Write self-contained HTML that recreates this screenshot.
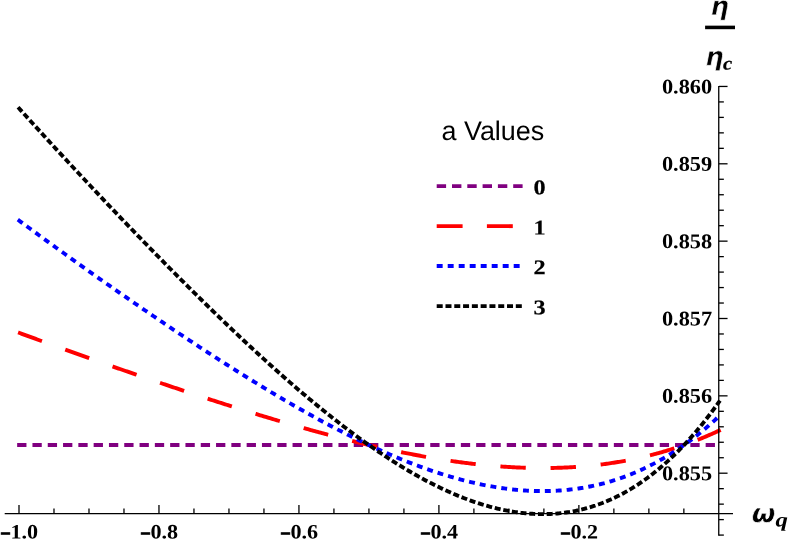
<!DOCTYPE html>
<html><head><meta charset="utf-8"><title>chart</title>
<style>html,body{margin:0;padding:0;background:#fff;}body{width:789px;height:540px;overflow:hidden;font-family:"Liberation Sans",sans-serif;}svg{display:block;will-change:transform;}</style>
</head><body>
<svg width="789" height="540" viewBox="0 0 789 540">
<rect width="789" height="540" fill="#fff"/>
<g fill="none" stroke-width="3.9">
<path d="M17.15,445.0 L720.85,445.0" stroke="#800080" stroke-dasharray="9.3 6"/>
<path d="M18.11,332.43 L19.00,332.76 L20.40,333.28 L21.81,333.80 L23.21,334.31 L24.61,334.83 L26.01,335.35 L27.42,335.87 L28.82,336.38 L30.22,336.90 L31.62,337.41 L33.03,337.93 L34.43,338.44 L35.83,338.95 L37.23,339.47 L38.64,339.98 L40.04,340.49 L41.44,341.01 L42.84,341.52 L44.25,342.03 L45.65,342.54 L47.05,343.05 L48.45,343.56 L49.86,344.07 L51.26,344.58 L52.66,345.09 L54.06,345.59 L55.47,346.10 L56.87,346.61 L58.27,347.12 L59.67,347.62 L61.08,348.13 L62.48,348.64 L63.88,349.14 L65.28,349.65 L66.69,350.15 L68.09,350.65 L69.49,351.16 L70.89,351.66 L72.30,352.16 L73.70,352.67 L75.10,353.17 L76.50,353.67 L77.91,354.17 L79.31,354.67 L80.71,355.17 L82.11,355.67 L83.52,356.17 L84.92,356.67 L86.32,357.17 L87.72,357.67 L89.13,358.17 L90.53,358.67 L91.93,359.16 L93.33,359.66 L94.74,360.16 L96.14,360.65 L97.54,361.15 L98.94,361.64 L100.35,362.14 L101.75,362.63 L103.15,363.13 L104.55,363.62 L105.96,364.11 L107.36,364.61 L108.76,365.10 L110.16,365.59 L111.57,366.08 L112.97,366.57 L114.37,367.07 L115.77,367.56 L117.18,368.05 L118.58,368.54 L119.98,369.02 L121.38,369.51 L122.79,370.00 L124.19,370.49 L125.59,370.98 L126.99,371.46 L128.40,371.95 L129.80,372.44 L131.20,372.92 L132.60,373.41 L134.01,373.89 L135.41,374.38 L136.81,374.86 L138.21,375.34 L139.62,375.83 L141.02,376.31 L142.42,376.79 L143.82,377.27 L145.23,377.75 L146.63,378.24 L148.03,378.72 L149.43,379.20 L150.84,379.67 L152.24,380.15 L153.64,380.63 L155.04,381.11 L156.45,381.59 L157.85,382.06 L159.25,382.54 L160.65,383.02 L162.06,383.49 L163.46,383.97 L164.86,384.44 L166.26,384.92 L167.67,385.39 L169.07,385.86 L170.47,386.33 L171.87,386.81 L173.28,387.28 L174.68,387.75 L176.08,388.22 L177.48,388.69 L178.89,389.16 L180.29,389.63 L181.69,390.09 L183.09,390.56 L184.50,391.03 L185.90,391.50 L187.30,391.96 L188.70,392.43 L190.11,392.89 L191.51,393.36 L192.91,393.82 L194.31,394.28 L195.72,394.74 L197.12,395.21 L198.52,395.67 L199.92,396.13 L201.33,396.59 L202.73,397.05 L204.13,397.51 L205.53,397.96 L206.94,398.42 L208.34,398.88 L209.74,399.33 L211.14,399.79 L212.55,400.24 L213.95,400.70 L215.35,401.15 L216.75,401.60 L218.16,402.06 L219.56,402.51 L220.96,402.96 L222.36,403.41 L223.77,403.86 L225.17,404.31 L226.57,404.75 L227.97,405.20 L229.38,405.65 L230.78,406.09 L232.18,406.54 L233.58,406.98 L234.99,407.43 L236.39,407.87 L237.79,408.31 L239.19,408.75 L240.60,409.19 L242.00,409.63 L243.40,410.07 L244.80,410.51 L246.21,410.94 L247.61,411.38 L249.01,411.82 L250.41,412.25 L251.82,412.68 L253.22,413.12 L254.62,413.55 L256.02,413.98 L257.43,414.41 L258.83,414.84 L260.23,415.27 L261.63,415.69 L263.04,416.12 L264.44,416.55 L265.84,416.97 L267.24,417.40 L268.65,417.82 L270.05,418.24 L271.45,418.66 L272.85,419.08 L274.26,419.50 L275.66,419.92 L277.06,420.34 L278.46,420.75 L279.87,421.17 L281.27,421.58 L282.67,421.99 L284.07,422.41 L285.48,422.82 L286.88,423.23 L288.28,423.63 L289.68,424.04 L291.09,424.45 L292.49,424.85 L293.89,425.26 L295.29,425.66 L296.70,426.06 L298.10,426.47 L299.50,426.87 L300.90,427.26 L302.31,427.66 L303.71,428.06 L305.11,428.45 L306.51,428.85 L307.92,429.24 L309.32,429.63 L310.72,430.02 L312.12,430.41 L313.53,430.80 L314.93,431.19 L316.33,431.57 L317.73,431.96 L319.14,432.34 L320.54,432.72 L321.94,433.10 L323.34,433.48 L324.75,433.86 L326.15,434.23 L327.55,434.61 L328.95,434.98 L330.36,435.36 L331.76,435.73 L333.16,436.10 L334.56,436.46 L335.97,436.83 L337.37,437.20 L338.77,437.56 L340.17,437.92 L341.58,438.28 L342.98,438.64 L344.38,439.00 L345.78,439.36 L347.19,439.71 L348.59,440.07 L349.99,440.42 L351.39,440.77 L352.80,441.12 L354.20,441.46 L355.60,441.81 L357.00,442.15 L358.41,442.50 L359.81,442.84 L361.21,443.18 L362.61,443.52 L364.02,443.85 L365.42,444.19 L366.82,444.52 L368.22,444.85 L369.63,445.18 L371.03,445.51 L372.43,445.83 L373.83,446.16 L375.24,446.48 L376.64,446.80 L378.04,447.12 L379.44,447.44 L380.85,447.75 L382.25,448.06 L383.65,448.38 L385.05,448.69 L386.46,448.99 L387.86,449.30 L389.26,449.60 L390.66,449.91 L392.07,450.21 L393.47,450.51 L394.87,450.80 L396.27,451.10 L397.68,451.39 L399.08,451.68 L400.48,451.97 L401.88,452.25 L403.29,452.54 L404.69,452.82 L406.09,453.10 L407.49,453.38 L408.90,453.66 L410.30,453.93 L411.70,454.20 L413.10,454.47 L414.51,454.74 L415.91,455.01 L417.31,455.27 L418.71,455.53 L420.12,455.79 L421.52,456.05 L422.92,456.30 L424.32,456.55 L425.73,456.80 L427.13,457.05 L428.53,457.30 L429.93,457.54 L431.34,457.78 L432.74,458.02 L434.14,458.26 L435.54,458.49 L436.95,458.72 L438.35,458.95 L439.75,459.18 L441.15,459.40 L442.56,459.62 L443.96,459.84 L445.36,460.06 L446.76,460.27 L448.17,460.49 L449.57,460.70 L450.97,460.90 L452.37,461.11 L453.78,461.31 L455.18,461.51 L456.58,461.70 L457.98,461.90 L459.39,462.09 L460.79,462.28 L462.19,462.46 L463.59,462.65 L465.00,462.83 L466.40,463.00 L467.80,463.18 L469.20,463.35 L470.61,463.52 L472.01,463.69 L473.41,463.85 L474.81,464.01 L476.22,464.17 L477.62,464.32 L479.02,464.48 L480.42,464.63 L481.83,464.77 L483.23,464.92 L484.63,465.06 L486.03,465.19 L487.44,465.33 L488.84,465.46 L490.24,465.59 L491.64,465.71 L493.05,465.84 L494.45,465.96 L495.85,466.07 L497.25,466.19 L498.66,466.30 L500.06,466.40 L501.46,466.51 L502.86,466.61 L504.27,466.70 L505.67,466.80 L507.07,466.89 L508.47,466.98 L509.88,467.06 L511.28,467.14 L512.68,467.22 L514.08,467.29 L515.49,467.36 L516.89,467.43 L518.29,467.49 L519.69,467.55 L521.10,467.61 L522.50,467.67 L523.90,467.72 L525.30,467.76 L526.71,467.80 L528.11,467.84 L529.51,467.88 L530.91,467.91 L532.32,467.94 L533.72,467.97 L535.12,467.99 L536.52,468.01 L537.93,468.02 L539.33,468.03 L540.73,468.04 L542.13,468.04 L543.54,468.04 L544.94,468.03 L546.34,468.03 L547.74,468.01 L549.15,468.00 L550.55,467.98 L551.95,467.95 L553.35,467.93 L554.76,467.89 L556.16,467.86 L557.56,467.82 L558.96,467.78 L560.37,467.73 L561.77,467.68 L563.17,467.62 L564.57,467.56 L565.98,467.50 L567.38,467.43 L568.78,467.36 L570.18,467.28 L571.59,467.20 L572.99,467.11 L574.39,467.02 L575.79,466.93 L577.20,466.83 L578.60,466.73 L580.00,466.63 L581.40,466.51 L582.81,466.40 L584.21,466.28 L585.61,466.16 L587.01,466.03 L588.42,465.90 L589.82,465.76 L591.22,465.62 L592.62,465.47 L594.03,465.32 L595.43,465.16 L596.83,465.00 L598.23,464.84 L599.64,464.67 L601.04,464.50 L602.44,464.32 L603.84,464.13 L605.25,463.95 L606.65,463.75 L608.05,463.56 L609.45,463.35 L610.86,463.15 L612.26,462.93 L613.66,462.72 L615.06,462.50 L616.47,462.27 L617.87,462.04 L619.27,461.80 L620.67,461.56 L622.08,461.31 L623.48,461.06 L624.88,460.80 L626.28,460.54 L627.69,460.27 L629.09,460.00 L630.49,459.72 L631.89,459.44 L633.30,459.15 L634.70,458.86 L636.10,458.56 L637.50,458.26 L638.91,457.95 L640.31,457.64 L641.71,457.32 L643.11,456.99 L644.52,456.66 L645.92,456.33 L647.32,455.98 L648.72,455.64 L650.13,455.29 L651.53,454.93 L652.93,454.56 L654.33,454.19 L655.74,453.82 L657.14,453.44 L658.54,453.05 L659.94,452.66 L661.35,452.26 L662.75,451.86 L664.15,451.45 L665.55,451.04 L666.96,450.62 L668.36,450.19 L669.76,449.76 L671.16,449.32 L672.57,448.88 L673.97,448.43 L675.37,447.97 L676.77,447.51 L678.18,447.04 L679.58,446.57 L680.98,446.09 L682.38,445.60 L683.79,445.11 L685.19,444.61 L686.59,444.10 L687.99,443.59 L689.40,443.07 L690.80,442.55 L692.20,442.02 L693.60,441.48 L695.01,440.94 L696.41,440.39 L697.81,439.84 L699.21,439.28 L700.62,438.71 L702.02,438.13 L703.42,437.55 L704.82,436.96 L706.23,436.37 L707.63,435.77 L709.03,435.16 L710.43,434.54 L711.84,433.92 L713.24,433.30 L714.64,432.66 L716.04,432.02 L717.45,431.37 L718.85,430.72 L720.66,429.87" stroke="#ff0000" stroke-dasharray="25.4 24.8"/>
<path d="M17.83,219.66 L19.00,220.52 L20.40,221.56 L21.81,222.59 L23.21,223.63 L24.61,224.66 L26.01,225.70 L27.42,226.73 L28.82,227.76 L30.22,228.79 L31.62,229.82 L33.03,230.85 L34.43,231.88 L35.83,232.91 L37.23,233.94 L38.64,234.96 L40.04,235.99 L41.44,237.01 L42.84,238.03 L44.25,239.06 L45.65,240.08 L47.05,241.10 L48.45,242.12 L49.86,243.14 L51.26,244.16 L52.66,245.17 L54.06,246.19 L55.47,247.21 L56.87,248.22 L58.27,249.23 L59.67,250.25 L61.08,251.26 L62.48,252.27 L63.88,253.28 L65.28,254.29 L66.69,255.30 L68.09,256.31 L69.49,257.32 L70.89,258.32 L72.30,259.33 L73.70,260.33 L75.10,261.34 L76.50,262.34 L77.91,263.34 L79.31,264.35 L80.71,265.35 L82.11,266.35 L83.52,267.35 L84.92,268.35 L86.32,269.34 L87.72,270.34 L89.13,271.34 L90.53,272.33 L91.93,273.33 L93.33,274.32 L94.74,275.31 L96.14,276.31 L97.54,277.30 L98.94,278.29 L100.35,279.28 L101.75,280.27 L103.15,281.26 L104.55,282.24 L105.96,283.23 L107.36,284.22 L108.76,285.20 L110.16,286.18 L111.57,287.17 L112.97,288.15 L114.37,289.13 L115.77,290.11 L117.18,291.09 L118.58,292.07 L119.98,293.05 L121.38,294.03 L122.79,295.00 L124.19,295.98 L125.59,296.95 L126.99,297.93 L128.40,298.90 L129.80,299.87 L131.20,300.84 L132.60,301.82 L134.01,302.78 L135.41,303.75 L136.81,304.72 L138.21,305.69 L139.62,306.65 L141.02,307.62 L142.42,308.58 L143.82,309.55 L145.23,310.51 L146.63,311.47 L148.03,312.43 L149.43,313.39 L150.84,314.35 L152.24,315.31 L153.64,316.26 L155.04,317.22 L156.45,318.18 L157.85,319.13 L159.25,320.08 L160.65,321.03 L162.06,321.98 L163.46,322.93 L164.86,323.88 L166.26,324.83 L167.67,325.78 L169.07,326.72 L170.47,327.67 L171.87,328.61 L173.28,329.56 L174.68,330.50 L176.08,331.44 L177.48,332.38 L178.89,333.32 L180.29,334.25 L181.69,335.19 L183.09,336.12 L184.50,337.06 L185.90,337.99 L187.30,338.92 L188.70,339.85 L190.11,340.78 L191.51,341.71 L192.91,342.64 L194.31,343.56 L195.72,344.49 L197.12,345.41 L198.52,346.33 L199.92,347.26 L201.33,348.18 L202.73,349.09 L204.13,350.01 L205.53,350.93 L206.94,351.84 L208.34,352.76 L209.74,353.67 L211.14,354.58 L212.55,355.49 L213.95,356.40 L215.35,357.30 L216.75,358.21 L218.16,359.11 L219.56,360.02 L220.96,360.92 L222.36,361.82 L223.77,362.72 L225.17,363.61 L226.57,364.51 L227.97,365.40 L229.38,366.29 L230.78,367.19 L232.18,368.08 L233.58,368.96 L234.99,369.85 L236.39,370.74 L237.79,371.62 L239.19,372.50 L240.60,373.38 L242.00,374.26 L243.40,375.14 L244.80,376.01 L246.21,376.89 L247.61,377.76 L249.01,378.63 L250.41,379.50 L251.82,380.37 L253.22,381.23 L254.62,382.10 L256.02,382.96 L257.43,383.82 L258.83,384.68 L260.23,385.53 L261.63,386.39 L263.04,387.24 L264.44,388.09 L265.84,388.94 L267.24,389.79 L268.65,390.64 L270.05,391.48 L271.45,392.32 L272.85,393.16 L274.26,394.00 L275.66,394.84 L277.06,395.67 L278.46,396.50 L279.87,397.33 L281.27,398.16 L282.67,398.99 L284.07,399.81 L285.48,400.63 L286.88,401.45 L288.28,402.27 L289.68,403.08 L291.09,403.90 L292.49,404.71 L293.89,405.52 L295.29,406.32 L296.70,407.13 L298.10,407.93 L299.50,408.73 L300.90,409.53 L302.31,410.32 L303.71,411.12 L305.11,411.91 L306.51,412.70 L307.92,413.48 L309.32,414.26 L310.72,415.05 L312.12,415.82 L313.53,416.60 L314.93,417.37 L316.33,418.14 L317.73,418.91 L319.14,419.68 L320.54,420.44 L321.94,421.20 L323.34,421.96 L324.75,422.72 L326.15,423.47 L327.55,424.22 L328.95,424.97 L330.36,425.71 L331.76,426.45 L333.16,427.19 L334.56,427.93 L335.97,428.66 L337.37,429.39 L338.77,430.12 L340.17,430.85 L341.58,431.57 L342.98,432.29 L344.38,433.00 L345.78,433.72 L347.19,434.43 L348.59,435.13 L349.99,435.84 L351.39,436.54 L352.80,437.24 L354.20,437.93 L355.60,438.62 L357.00,439.31 L358.41,439.99 L359.81,440.68 L361.21,441.36 L362.61,442.03 L364.02,442.70 L365.42,443.37 L366.82,444.04 L368.22,444.70 L369.63,445.36 L371.03,446.01 L372.43,446.67 L373.83,447.31 L375.24,447.96 L376.64,448.60 L378.04,449.24 L379.44,449.87 L380.85,450.50 L382.25,451.13 L383.65,451.75 L385.05,452.37 L386.46,452.99 L387.86,453.60 L389.26,454.21 L390.66,454.81 L392.07,455.41 L393.47,456.01 L394.87,456.60 L396.27,457.19 L397.68,457.78 L399.08,458.36 L400.48,458.94 L401.88,459.51 L403.29,460.08 L404.69,460.64 L406.09,461.20 L407.49,461.76 L408.90,462.31 L410.30,462.86 L411.70,463.41 L413.10,463.95 L414.51,464.48 L415.91,465.01 L417.31,465.54 L418.71,466.06 L420.12,466.58 L421.52,467.09 L422.92,467.60 L424.32,468.11 L425.73,468.61 L427.13,469.10 L428.53,469.60 L429.93,470.08 L431.34,470.56 L432.74,471.04 L434.14,471.51 L435.54,471.98 L436.95,472.44 L438.35,472.90 L439.75,473.36 L441.15,473.81 L442.56,474.25 L443.96,474.69 L445.36,475.12 L446.76,475.55 L448.17,475.97 L449.57,476.39 L450.97,476.81 L452.37,477.21 L453.78,477.62 L455.18,478.02 L456.58,478.41 L457.98,478.80 L459.39,479.18 L460.79,479.55 L462.19,479.93 L463.59,480.29 L465.00,480.65 L466.40,481.01 L467.80,481.36 L469.20,481.70 L470.61,482.04 L472.01,482.37 L473.41,482.70 L474.81,483.02 L476.22,483.34 L477.62,483.65 L479.02,483.95 L480.42,484.25 L481.83,484.55 L483.23,484.83 L484.63,485.11 L486.03,485.39 L487.44,485.66 L488.84,485.92 L490.24,486.18 L491.64,486.43 L493.05,486.67 L494.45,486.91 L495.85,487.14 L497.25,487.37 L498.66,487.59 L500.06,487.80 L501.46,488.01 L502.86,488.21 L504.27,488.41 L505.67,488.59 L507.07,488.78 L508.47,488.95 L509.88,489.12 L511.28,489.28 L512.68,489.44 L514.08,489.58 L515.49,489.73 L516.89,489.86 L518.29,489.99 L519.69,490.11 L521.10,490.22 L522.50,490.33 L523.90,490.43 L525.30,490.52 L526.71,490.61 L528.11,490.69 L529.51,490.76 L530.91,490.83 L532.32,490.88 L533.72,490.93 L535.12,490.98 L536.52,491.01 L537.93,491.04 L539.33,491.06 L540.73,491.07 L542.13,491.08 L543.54,491.08 L544.94,491.07 L546.34,491.05 L547.74,491.03 L549.15,491.00 L550.55,490.96 L551.95,490.91 L553.35,490.85 L554.76,490.79 L556.16,490.72 L557.56,490.64 L558.96,490.55 L560.37,490.46 L561.77,490.35 L563.17,490.24 L564.57,490.12 L565.98,489.99 L567.38,489.86 L568.78,489.71 L570.18,489.56 L571.59,489.40 L572.99,489.23 L574.39,489.05 L575.79,488.86 L577.20,488.67 L578.60,488.46 L580.00,488.25 L581.40,488.03 L582.81,487.80 L584.21,487.56 L585.61,487.31 L587.01,487.06 L588.42,486.79 L589.82,486.52 L591.22,486.23 L592.62,485.94 L594.03,485.64 L595.43,485.33 L596.83,485.01 L598.23,484.68 L599.64,484.34 L601.04,483.99 L602.44,483.64 L603.84,483.27 L605.25,482.89 L606.65,482.51 L608.05,482.11 L609.45,481.71 L610.86,481.29 L612.26,480.87 L613.66,480.44 L615.06,479.99 L616.47,479.54 L617.87,479.07 L619.27,478.60 L620.67,478.12 L622.08,477.62 L623.48,477.12 L624.88,476.61 L626.28,476.08 L627.69,475.55 L629.09,475.00 L630.49,474.45 L631.89,473.88 L633.30,473.31 L634.70,472.72 L636.10,472.13 L637.50,471.52 L638.91,470.90 L640.31,470.27 L641.71,469.63 L643.11,468.98 L644.52,468.32 L645.92,467.65 L647.32,466.97 L648.72,466.27 L650.13,465.57 L651.53,464.85 L652.93,464.13 L654.33,463.39 L655.74,462.64 L657.14,461.88 L658.54,461.11 L659.94,460.32 L661.35,459.53 L662.75,458.72 L664.15,457.91 L665.55,457.08 L666.96,456.23 L668.36,455.38 L669.76,454.52 L671.16,453.64 L672.57,452.75 L673.97,451.85 L675.37,450.94 L676.77,450.02 L678.18,449.08 L679.58,448.13 L680.98,447.17 L682.38,446.20 L683.79,445.21 L685.19,444.22 L686.59,443.21 L687.99,442.18 L689.40,441.15 L690.80,440.10 L692.20,439.04 L693.60,437.97 L695.01,436.88 L696.41,435.79 L697.81,434.67 L699.21,433.55 L700.62,432.41 L702.02,431.26 L703.42,430.10 L704.82,428.92 L706.23,427.74 L707.63,426.53 L709.03,425.32 L710.43,424.09 L711.84,422.85 L713.24,421.59 L714.64,420.32 L716.04,419.04 L717.45,417.74 L718.85,416.43 L719.58,415.75" stroke="#0000ff" stroke-dasharray="5.9 5.03"/>
<path d="M18.04,107.22 L19.00,108.28 L20.40,109.83 L21.81,111.39 L23.21,112.94 L24.61,114.50 L26.01,116.05 L27.42,117.60 L28.82,119.14 L30.22,120.69 L31.62,122.24 L33.03,123.78 L34.43,125.32 L35.83,126.86 L37.23,128.40 L38.64,129.94 L40.04,131.48 L41.44,133.02 L42.84,134.55 L44.25,136.08 L45.65,137.62 L47.05,139.15 L48.45,140.68 L49.86,142.21 L51.26,143.73 L52.66,145.26 L54.06,146.78 L55.47,148.31 L56.87,149.83 L58.27,151.35 L59.67,152.87 L61.08,154.39 L62.48,155.91 L63.88,157.42 L65.28,158.94 L66.69,160.45 L68.09,161.96 L69.49,163.48 L70.89,164.99 L72.30,166.49 L73.70,168.00 L75.10,169.51 L76.50,171.01 L77.91,172.52 L79.31,174.02 L80.71,175.52 L82.11,177.02 L83.52,178.52 L84.92,180.02 L86.32,181.52 L87.72,183.01 L89.13,184.51 L90.53,186.00 L91.93,187.49 L93.33,188.98 L94.74,190.47 L96.14,191.96 L97.54,193.45 L98.94,194.93 L100.35,196.42 L101.75,197.90 L103.15,199.38 L104.55,200.86 L105.96,202.34 L107.36,203.82 L108.76,205.30 L110.16,206.78 L111.57,208.25 L112.97,209.72 L114.37,211.20 L115.77,212.67 L117.18,214.14 L118.58,215.61 L119.98,217.07 L121.38,218.54 L122.79,220.00 L124.19,221.47 L125.59,222.93 L126.99,224.39 L128.40,225.85 L129.80,227.31 L131.20,228.77 L132.60,230.22 L134.01,231.68 L135.41,233.13 L136.81,234.58 L138.21,236.03 L139.62,237.48 L141.02,238.93 L142.42,240.38 L143.82,241.82 L145.23,243.26 L146.63,244.71 L148.03,246.15 L149.43,247.59 L150.84,249.02 L152.24,250.46 L153.64,251.90 L155.04,253.33 L156.45,254.76 L157.85,256.19 L159.25,257.62 L160.65,259.05 L162.06,260.48 L163.46,261.90 L164.86,263.33 L166.26,264.75 L167.67,266.17 L169.07,267.59 L170.47,269.00 L171.87,270.42 L173.28,271.83 L174.68,273.25 L176.08,274.66 L177.48,276.07 L178.89,277.47 L180.29,278.88 L181.69,280.28 L183.09,281.69 L184.50,283.09 L185.90,284.49 L187.30,285.88 L188.70,287.28 L190.11,288.67 L191.51,290.07 L192.91,291.46 L194.31,292.85 L195.72,294.23 L197.12,295.62 L198.52,297.00 L199.92,298.38 L201.33,299.76 L202.73,301.14 L204.13,302.52 L205.53,303.89 L206.94,305.26 L208.34,306.63 L209.74,308.00 L211.14,309.37 L212.55,310.73 L213.95,312.09 L215.35,313.45 L216.75,314.81 L218.16,316.17 L219.56,317.52 L220.96,318.88 L222.36,320.23 L223.77,321.57 L225.17,322.92 L226.57,324.26 L227.97,325.60 L229.38,326.94 L230.78,328.28 L232.18,329.61 L233.58,330.95 L234.99,332.28 L236.39,333.60 L237.79,334.93 L239.19,336.25 L240.60,337.57 L242.00,338.89 L243.40,340.21 L244.80,341.52 L246.21,342.83 L247.61,344.14 L249.01,345.45 L250.41,346.75 L251.82,348.05 L253.22,349.35 L254.62,350.64 L256.02,351.94 L257.43,353.23 L258.83,354.52 L260.23,355.80 L261.63,357.08 L263.04,358.36 L264.44,359.64 L265.84,360.91 L267.24,362.19 L268.65,363.45 L270.05,364.72 L271.45,365.98 L272.85,367.24 L274.26,368.50 L275.66,369.75 L277.06,371.01 L278.46,372.25 L279.87,373.50 L281.27,374.74 L282.67,375.98 L284.07,377.22 L285.48,378.45 L286.88,379.68 L288.28,380.90 L289.68,382.13 L291.09,383.35 L292.49,384.56 L293.89,385.78 L295.29,386.99 L296.70,388.19 L298.10,389.40 L299.50,390.60 L300.90,391.79 L302.31,392.99 L303.71,394.18 L305.11,395.36 L306.51,396.54 L307.92,397.72 L309.32,398.90 L310.72,400.07 L312.12,401.24 L313.53,402.40 L314.93,403.56 L316.33,404.72 L317.73,405.87 L319.14,407.02 L320.54,408.16 L321.94,409.30 L323.34,410.44 L324.75,411.57 L326.15,412.70 L327.55,413.83 L328.95,414.95 L330.36,416.07 L331.76,417.18 L333.16,418.29 L334.56,419.39 L335.97,420.49 L337.37,421.59 L338.77,422.68 L340.17,423.77 L341.58,424.85 L342.98,425.93 L344.38,427.00 L345.78,428.07 L347.19,429.14 L348.59,430.20 L349.99,431.25 L351.39,432.31 L352.80,433.35 L354.20,434.39 L355.60,435.43 L357.00,436.46 L358.41,437.49 L359.81,438.52 L361.21,439.53 L362.61,440.55 L364.02,441.55 L365.42,442.56 L366.82,443.56 L368.22,444.55 L369.63,445.54 L371.03,446.52 L372.43,447.50 L373.83,448.47 L375.24,449.44 L376.64,450.40 L378.04,451.36 L379.44,452.31 L380.85,453.25 L382.25,454.19 L383.65,455.13 L385.05,456.06 L386.46,456.98 L387.86,457.90 L389.26,458.81 L390.66,459.72 L392.07,460.62 L393.47,461.52 L394.87,462.40 L396.27,463.29 L397.68,464.17 L399.08,465.04 L400.48,465.90 L401.88,466.76 L403.29,467.62 L404.69,468.46 L406.09,469.31 L407.49,470.14 L408.90,470.97 L410.30,471.79 L411.70,472.61 L413.10,473.42 L414.51,474.22 L415.91,475.02 L417.31,475.81 L418.71,476.59 L420.12,477.37 L421.52,478.14 L422.92,478.91 L424.32,479.66 L425.73,480.41 L427.13,481.16 L428.53,481.89 L429.93,482.62 L431.34,483.35 L432.74,484.06 L434.14,484.77 L435.54,485.47 L436.95,486.17 L438.35,486.85 L439.75,487.53 L441.15,488.21 L442.56,488.87 L443.96,489.53 L445.36,490.18 L446.76,490.82 L448.17,491.46 L449.57,492.09 L450.97,492.71 L452.37,493.32 L453.78,493.93 L455.18,494.52 L456.58,495.11 L457.98,495.69 L459.39,496.27 L460.79,496.83 L462.19,497.39 L463.59,497.94 L465.00,498.48 L466.40,499.01 L467.80,499.54 L469.20,500.05 L470.61,500.56 L472.01,501.06 L473.41,501.55 L474.81,502.04 L476.22,502.51 L477.62,502.97 L479.02,503.43 L480.42,503.88 L481.83,504.32 L483.23,504.75 L484.63,505.17 L486.03,505.58 L487.44,505.99 L488.84,506.38 L490.24,506.77 L491.64,507.14 L493.05,507.51 L494.45,507.87 L495.85,508.22 L497.25,508.56 L498.66,508.89 L500.06,509.21 L501.46,509.52 L502.86,509.82 L504.27,510.11 L505.67,510.39 L507.07,510.66 L508.47,510.93 L509.88,511.18 L511.28,511.42 L512.68,511.65 L514.08,511.88 L515.49,512.09 L516.89,512.29 L518.29,512.48 L519.69,512.66 L521.10,512.83 L522.50,513.00 L523.90,513.15 L525.30,513.29 L526.71,513.41 L528.11,513.53 L529.51,513.64 L530.91,513.74 L532.32,513.82 L533.72,513.90 L535.12,513.96 L536.52,514.02 L537.93,514.06 L539.33,514.09 L540.73,514.11 L542.13,514.12 L543.54,514.12 L544.94,514.10 L546.34,514.08 L547.74,514.04 L549.15,513.99 L550.55,513.93 L551.95,513.86 L553.35,513.78 L554.76,513.68 L556.16,513.58 L557.56,513.46 L558.96,513.33 L560.37,513.18 L561.77,513.03 L563.17,512.86 L564.57,512.68 L565.98,512.49 L567.38,512.28 L568.78,512.07 L570.18,511.84 L571.59,511.60 L572.99,511.34 L574.39,511.07 L575.79,510.79 L577.20,510.50 L578.60,510.20 L580.00,509.88 L581.40,509.54 L582.81,509.20 L584.21,508.84 L585.61,508.47 L587.01,508.08 L588.42,507.69 L589.82,507.28 L591.22,506.85 L592.62,506.41 L594.03,505.96 L595.43,505.49 L596.83,505.01 L598.23,504.52 L599.64,504.01 L601.04,503.49 L602.44,502.95 L603.84,502.40 L605.25,501.84 L606.65,501.26 L608.05,500.67 L609.45,500.06 L610.86,499.44 L612.26,498.80 L613.66,498.15 L615.06,497.49 L616.47,496.81 L617.87,496.11 L619.27,495.40 L620.67,494.68 L622.08,493.94 L623.48,493.18 L624.88,492.41 L626.28,491.62 L627.69,490.82 L629.09,490.01 L630.49,489.17 L631.89,488.33 L633.30,487.46 L634.70,486.58 L636.10,485.69 L637.50,484.78 L638.91,483.85 L640.31,482.91 L641.71,481.95 L643.11,480.98 L644.52,479.98 L645.92,478.98 L647.32,477.95 L648.72,476.91 L650.13,475.86 L651.53,474.78 L652.93,473.69 L654.33,472.58 L655.74,471.46 L657.14,470.32 L658.54,469.16 L659.94,467.99 L661.35,466.79 L662.75,465.58 L664.15,464.36 L665.55,463.11 L666.96,461.85 L668.36,460.57 L669.76,459.28 L671.16,457.96 L672.57,456.63 L673.97,455.28 L675.37,453.91 L676.77,452.52 L678.18,451.12 L679.58,449.70 L680.98,448.26 L682.38,446.80 L683.79,445.32 L685.19,443.82 L686.59,442.31 L687.99,440.77 L689.40,439.22 L690.80,437.65 L692.20,436.06 L693.60,434.45 L695.01,432.82 L696.41,431.18 L697.81,429.51 L699.21,427.83 L700.62,426.12 L702.02,424.40 L703.42,422.65 L704.82,420.89 L706.23,419.10 L707.63,417.30 L709.03,415.48 L710.43,413.63 L711.84,411.77 L713.24,409.89 L714.64,407.98 L716.04,406.06 L717.45,404.11 L718.85,402.15 L720.01,400.52" stroke="#000000" stroke-dasharray="6.0 2.741"/>
</g>
<g stroke="#000000" stroke-width="1.3" fill="none">
<line x1="4.7" y1="513.55" x2="733" y2="513.55"/>
<line x1="718.75" y1="85.9" x2="718.75" y2="535.7"/>
<line x1="19.00" y1="513.55" x2="19.00" y2="505.04999999999995"/>
<line x1="53.99" y1="513.55" x2="53.99" y2="508.54999999999995"/>
<line x1="88.99" y1="513.55" x2="88.99" y2="508.54999999999995"/>
<line x1="123.98" y1="513.55" x2="123.98" y2="508.54999999999995"/>
<line x1="158.97" y1="513.55" x2="158.97" y2="505.04999999999995"/>
<line x1="193.96" y1="513.55" x2="193.96" y2="508.54999999999995"/>
<line x1="228.96" y1="513.55" x2="228.96" y2="508.54999999999995"/>
<line x1="263.95" y1="513.55" x2="263.95" y2="508.54999999999995"/>
<line x1="298.94" y1="513.55" x2="298.94" y2="505.04999999999995"/>
<line x1="333.93" y1="513.55" x2="333.93" y2="508.54999999999995"/>
<line x1="368.93" y1="513.55" x2="368.93" y2="508.54999999999995"/>
<line x1="403.92" y1="513.55" x2="403.92" y2="508.54999999999995"/>
<line x1="438.91" y1="513.55" x2="438.91" y2="505.04999999999995"/>
<line x1="473.90" y1="513.55" x2="473.90" y2="508.54999999999995"/>
<line x1="508.90" y1="513.55" x2="508.90" y2="508.54999999999995"/>
<line x1="543.89" y1="513.55" x2="543.89" y2="508.54999999999995"/>
<line x1="578.88" y1="513.55" x2="578.88" y2="505.04999999999995"/>
<line x1="613.87" y1="513.55" x2="613.87" y2="508.54999999999995"/>
<line x1="648.87" y1="513.55" x2="648.87" y2="508.54999999999995"/>
<line x1="683.86" y1="513.55" x2="683.86" y2="508.54999999999995"/>
<line x1="718.85" y1="535.08" x2="723.85" y2="535.08"/>
<line x1="718.85" y1="519.61" x2="723.85" y2="519.61"/>
<line x1="718.85" y1="504.14" x2="723.85" y2="504.14"/>
<line x1="718.85" y1="488.67" x2="723.85" y2="488.67"/>
<line x1="718.85" y1="473.20" x2="727.5500000000001" y2="473.20"/>
<line x1="718.85" y1="457.73" x2="723.85" y2="457.73"/>
<line x1="718.85" y1="442.26" x2="723.85" y2="442.26"/>
<line x1="718.85" y1="426.79" x2="723.85" y2="426.79"/>
<line x1="718.85" y1="411.32" x2="723.85" y2="411.32"/>
<line x1="718.85" y1="395.85" x2="727.5500000000001" y2="395.85"/>
<line x1="718.85" y1="380.38" x2="723.85" y2="380.38"/>
<line x1="718.85" y1="364.91" x2="723.85" y2="364.91"/>
<line x1="718.85" y1="349.44" x2="723.85" y2="349.44"/>
<line x1="718.85" y1="333.97" x2="723.85" y2="333.97"/>
<line x1="718.85" y1="318.50" x2="727.5500000000001" y2="318.50"/>
<line x1="718.85" y1="303.03" x2="723.85" y2="303.03"/>
<line x1="718.85" y1="287.56" x2="723.85" y2="287.56"/>
<line x1="718.85" y1="272.09" x2="723.85" y2="272.09"/>
<line x1="718.85" y1="256.62" x2="723.85" y2="256.62"/>
<line x1="718.85" y1="241.15" x2="727.5500000000001" y2="241.15"/>
<line x1="718.85" y1="225.68" x2="723.85" y2="225.68"/>
<line x1="718.85" y1="210.21" x2="723.85" y2="210.21"/>
<line x1="718.85" y1="194.74" x2="723.85" y2="194.74"/>
<line x1="718.85" y1="179.27" x2="723.85" y2="179.27"/>
<line x1="718.85" y1="163.80" x2="727.5500000000001" y2="163.80"/>
<line x1="718.85" y1="148.33" x2="723.85" y2="148.33"/>
<line x1="718.85" y1="132.86" x2="723.85" y2="132.86"/>
<line x1="718.85" y1="117.39" x2="723.85" y2="117.39"/>
<line x1="718.85" y1="101.92" x2="723.85" y2="101.92"/>
<line x1="718.85" y1="86.45" x2="727.5500000000001" y2="86.45"/>
</g>
<g font-family="'Liberation Serif', serif" font-weight="bold" font-size="20.9" fill="#000">
<text transform="translate(0.35,540.50) rotate(0.03) scale(0.88,1)" stroke="#000" stroke-width="1.0">−</text>
<text transform="translate(10.50,538.50) rotate(0.03) scale(1.0787,1)" font-size="20.5">1.0</text>
<text transform="translate(140.32,540.50) rotate(0.03) scale(0.88,1)" stroke="#000" stroke-width="1.0">−</text>
<text transform="translate(150.47,538.50) rotate(0.03) scale(1.0787,1)" font-size="20.5">0.8</text>
<text transform="translate(280.29,540.50) rotate(0.03) scale(0.88,1)" stroke="#000" stroke-width="1.0">−</text>
<text transform="translate(290.44,538.50) rotate(0.03) scale(1.0787,1)" font-size="20.5">0.6</text>
<text transform="translate(420.26,540.50) rotate(0.03) scale(0.88,1)" stroke="#000" stroke-width="1.0">−</text>
<text transform="translate(430.41,538.50) rotate(0.03) scale(1.0787,1)" font-size="20.5">0.4</text>
<text transform="translate(560.23,540.50) rotate(0.03) scale(0.88,1)" stroke="#000" stroke-width="1.0">−</text>
<text transform="translate(570.38,538.50) rotate(0.03) scale(1.0787,1)" font-size="20.5">0.2</text>
<text transform="translate(712.1,480.20) rotate(0.03) scale(1.068,1)" text-anchor="end">0.855</text>
<text transform="translate(712.1,402.85) rotate(0.03) scale(1.068,1)" text-anchor="end">0.856</text>
<text transform="translate(712.1,325.50) rotate(0.03) scale(1.068,1)" text-anchor="end">0.857</text>
<text transform="translate(712.1,248.15) rotate(0.03) scale(1.068,1)" text-anchor="end">0.858</text>
<text transform="translate(712.1,170.80) rotate(0.03) scale(1.068,1)" text-anchor="end">0.859</text>
<text transform="translate(712.1,93.45) rotate(0.03) scale(1.068,1)" text-anchor="end">0.860</text>
</g>
<g fill="none" stroke-width="3.9">
<path d="M436.7,186.15 L523,186.15" stroke="#800080" stroke-dasharray="9.4 5.9"/>
<path d="M436.7,226.15 L523,226.15" stroke="#ff0000" stroke-dasharray="25.9 24.3"/>
<path d="M436.7,266.0 L523,266.0" stroke="#0000ff" stroke-dasharray="5.95 5.05"/>
<path d="M436.7,306.1 L523,306.1" stroke="#000000" stroke-dasharray="6.0 2.79"/>
</g>
<g font-family="'Liberation Serif', serif" font-weight="bold" font-size="20.9" fill="#000">
<text transform="translate(539.65,194.30) rotate(0.03) scale(1.16,1)" text-anchor="middle" stroke="#000" stroke-width="0.2">0</text>
<text transform="translate(539.65,234.40) rotate(0.03) scale(1.16,1)" text-anchor="middle" stroke="#000" stroke-width="0.2">1</text>
<text transform="translate(539.65,274.30) rotate(0.03) scale(1.16,1)" text-anchor="middle" stroke="#000" stroke-width="0.2">2</text>
<text transform="translate(539.65,314.30) rotate(0.03) scale(1.16,1)" text-anchor="middle" stroke="#000" stroke-width="0.2">3</text>
</g>
<text transform="translate(441.45,139.9) rotate(0.03)" font-family="'Liberation Sans', sans-serif" font-size="26.95" fill="#000">a Values</text>
<path d="M1360 682 1145 -426H785L890 111L969 522Q998 667 1002.0 722.0Q1006 777 995 803Q981 838 949 858Q916 877 870 877Q758 877 678 790Q597 704 567 551L460 0H102L320 1120H678L646 956Q746 1054 846 1100Q946 1147 1056 1147Q1250 1147 1327 1028Q1405 909 1360 682Z" transform="translate(710.41,14.90) scale(0.012695,-0.012695)" fill="#000" stroke="#fff" stroke-width="63.0" stroke-linejoin="miter"/>
<rect x="705.1" y="25.65" width="29.9" height="3.55" fill="#000"/>
<path d="M1360 682 1145 -426H785L890 111L969 522Q998 667 1002.0 722.0Q1006 777 995 803Q981 838 949 858Q916 877 870 877Q758 877 678 790Q597 704 567 551L460 0H102L320 1120H678L646 956Q746 1054 846 1100Q946 1147 1056 1147Q1250 1147 1327 1028Q1405 909 1360 682Z" transform="translate(705.21,65.40) scale(0.012695,-0.012695)" fill="#000" stroke="#fff" stroke-width="63.0" stroke-linejoin="miter"/>
<path d="M835 261Q745 -27 417 -27Q68 -27 68 346Q68 444 92 568Q142 824 395 1120H702Q527 884 466 572Q447 477 447 411Q447 257 546 257Q659 257 743 712H1101Q1059 507 1059.0 382.0Q1059 257 1122 257Q1263 257 1324 572Q1349 703 1349.0 843.0Q1349 983 1300 1120H1607Q1709 902 1709 706Q1709 636 1696 568Q1581 -27 1140 -27Q833 -27 833 226Q833 243 835 261Z" transform="translate(751.59,522.30) scale(0.013433,-0.012793)" fill="#000" stroke="#fff" stroke-width="62.5" stroke-linejoin="miter"/>
<g font-family="'Liberation Serif', serif" font-weight="bold" font-style="italic" fill="#000">
<text transform="translate(723.0,69.55) rotate(0.03) scale(1.12,1)" font-size="18.6" stroke="#000" stroke-width="0.25">c</text>
<text transform="translate(775.5,526.45) rotate(0.03) scale(1.24,1)" font-size="20.0">q</text>
</g>
</svg>
</body></html>
